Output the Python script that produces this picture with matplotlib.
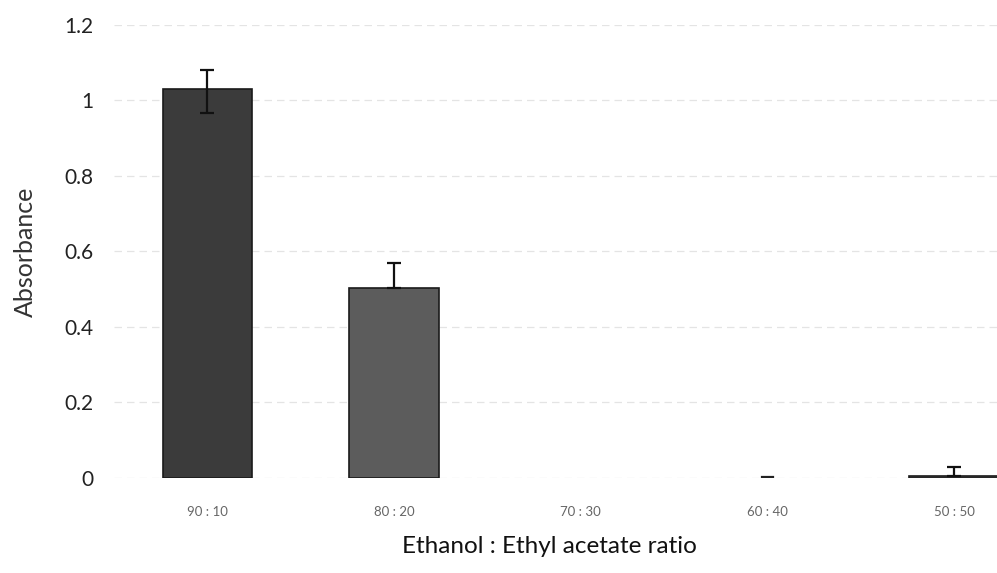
import numpy as np
import matplotlib.pyplot as plt

ratios = ['90 : 10', '80 : 20', '70 : 30', '60 : 40', '50 : 50']
absorbance = [1.03, 0.503, 0.0, 0.002, 0.006]
err_low = [0.062, 0.0, 0.0, 0.0, 0.0]
err_high = [0.05, 0.066, 0.0, 0.0, 0.024]
bar_colors = ['#3b3b3b', '#5c5c5c', '#6a6a6a', '#6a6a6a', '#6a6a6a']
y_ticks = [0, 0.2, 0.4, 0.6, 0.8, 1.0, 1.2]
y_tick_labels = ['0', '0.2', '0.4', '0.6', '0.8', '1', '1.2']

plt.rcParams['font.family'] = ['Lato', 'DejaVu Sans']

fig = plt.figure(figsize=(9.97, 5.73), dpi=100)
ax = fig.add_axes([0.1145, 0.1658, 0.8855, 0.7906])

x = np.arange(len(ratios))
shown = [0, 1, 4]
ax.bar(x[shown], [absorbance[i] for i in shown], width=0.48,
       color=[bar_colors[i] for i in shown], edgecolor='#1a1a1a',
       linewidth=1.2, zorder=2)
ax.errorbar(x[shown], [absorbance[i] for i in shown],
            yerr=[[err_low[i] for i in shown], [err_high[i] for i in shown]],
            fmt='none', ecolor='#111111', elinewidth=1.6, capsize=5,
            capthick=1.6, zorder=3)
# 60:40 shows just a short dash
ax.plot([x[3] - 0.03, x[3] + 0.03], [absorbance[3]] * 2, color='#222222',
        linewidth=1.6, zorder=3)

ax.set_ylim(0, 1.2)
ax.set_xlim(-0.5, 4.23)
ax.set_yticks(y_ticks)
ax.set_yticklabels(y_tick_labels, fontsize=15, color='#222222')
ax.set_xticks(x)
ax.set_xticklabels(ratios, fontsize=9.5, color='#666666')
ax.tick_params(axis='both', length=0)
ax.tick_params(axis='y', pad=15)
ax.tick_params(axis='x', pad=20)

ax.yaxis.grid(True, color='#e4e4e4', linestyle=(0, (6, 4)), linewidth=0.9)
ax.set_axisbelow(True)
for side in ['top', 'right', 'left', 'bottom']:
    ax.spines[side].set_visible(False)

ax.set_ylabel('Absorbance', fontsize=18, color='#333333')
ax.yaxis.set_label_coords(-0.088, 0.5)
ax.set_xlabel('Ethanol : Ethyl acetate ratio', fontsize=17.5, color='#111111')
ax.xaxis.set_label_coords(0.493, -0.128)

plt.savefig('out.png', dpi=100)
